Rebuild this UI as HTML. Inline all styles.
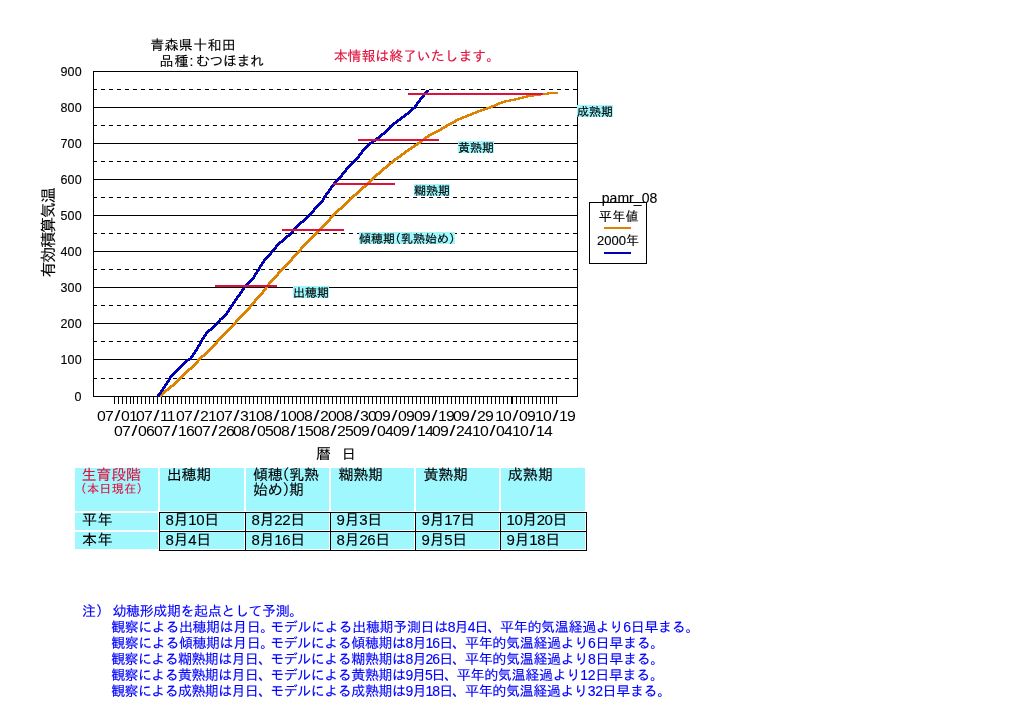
<!DOCTYPE html>
<html lang="ja"><head><meta charset="utf-8"><title>pamr_08</title>
<style>
html,body{margin:0;padding:0;background:#fff}
body{width:1024px;height:724px;position:relative;overflow:hidden;font-family:"Liberation Sans","IPAGothic",sans-serif}
.t{position:absolute;white-space:nowrap;line-height:1;font-family:"Liberation Sans","IPAGothic",sans-serif;-webkit-text-stroke:0.12px currentColor}
.x{font-size:14px;letter-spacing:-0.7px;-webkit-text-stroke:0;transform:scaleX(1.13);transform-origin:0 0}
.sl{display:inline-block;margin:0 1.95px;transform:scaleX(1.35)}
.c{position:absolute;background:#a0f8ff}
.k{position:absolute;background:#000}
</style></head><body>
<svg width="1024" height="724" viewBox="0 0 1024 724" style="position:absolute;left:0;top:0" shape-rendering="crispEdges">
<rect x="93" y="359" width="485" height="1" fill="#000"/>
<rect x="93" y="323" width="485" height="1" fill="#000"/>
<rect x="93" y="287" width="485" height="1" fill="#000"/>
<rect x="93" y="251" width="485" height="1" fill="#000"/>
<rect x="93" y="215" width="485" height="1" fill="#000"/>
<rect x="93" y="179" width="485" height="1" fill="#000"/>
<rect x="93" y="143" width="485" height="1" fill="#000"/>
<rect x="93" y="107" width="485" height="1" fill="#000"/>
<line x1="93" y1="378.5" x2="578" y2="378.5" stroke="#000" stroke-width="1" stroke-dasharray="4 4"/>
<line x1="93" y1="341.5" x2="578" y2="341.5" stroke="#000" stroke-width="1" stroke-dasharray="4 4"/>
<line x1="93" y1="305.5" x2="578" y2="305.5" stroke="#000" stroke-width="1" stroke-dasharray="4 4"/>
<line x1="93" y1="269.5" x2="578" y2="269.5" stroke="#000" stroke-width="1" stroke-dasharray="4 4"/>
<line x1="93" y1="233.5" x2="578" y2="233.5" stroke="#000" stroke-width="1" stroke-dasharray="4 4"/>
<line x1="93" y1="197.5" x2="578" y2="197.5" stroke="#000" stroke-width="1" stroke-dasharray="4 4"/>
<line x1="93" y1="161.5" x2="578" y2="161.5" stroke="#000" stroke-width="1" stroke-dasharray="4 4"/>
<line x1="93" y1="125.5" x2="578" y2="125.5" stroke="#000" stroke-width="1" stroke-dasharray="4 4"/>
<line x1="93" y1="89.5" x2="578" y2="89.5" stroke="#000" stroke-width="1" stroke-dasharray="4 4"/>
<rect x="93.5" y="71.5" width="484" height="325" fill="none" stroke="#000" stroke-width="1"/>
<path d="M114.5 397V404M118.5 397V404M122.5 397V404M126.5 397V404M130.5 397V404M133.5 397V404M137.5 397V404M141.5 397V404M145.5 397V404M149.5 397V404M153.5 397V404M157.5 397V404M161.5 397V404M165.5 397V404M169.5 397V404M173.5 397V404M177.5 397V404M181.5 397V404M185.5 397V404M189.5 397V404M193.5 397V404M197.5 397V404M201.5 397V404M205.5 397V404M209.5 397V404M213.5 397V404M217.5 397V404M221.5 397V404M225.5 397V404M229.5 397V404M233.5 397V404M237.5 397V404M241.5 397V404M245.5 397V404M249.5 397V404M253.5 397V404M257.5 397V404M261.5 397V404M265.5 397V404M269.5 397V404M273.5 397V404M277.5 397V404M280.5 397V404M284.5 397V404M288.5 397V404M292.5 397V404M296.5 397V404M300.5 397V404M304.5 397V404M308.5 397V404M312.5 397V404M316.5 397V404M320.5 397V404M324.5 397V404M328.5 397V404M332.5 397V404M336.5 397V404M340.5 397V404M344.5 397V404M348.5 397V404M352.5 397V404M356.5 397V404M360.5 397V404M364.5 397V404M368.5 397V404M372.5 397V404M376.5 397V404M380.5 397V404M384.5 397V404M388.5 397V404M392.5 397V404M396.5 397V404M400.5 397V404M404.5 397V404M408.5 397V404M412.5 397V404M416.5 397V404M420.5 397V404M424.5 397V404M428.5 397V404M432.5 397V404M435.5 397V404M439.5 397V404M443.5 397V404M447.5 397V404M451.5 397V404M455.5 397V404M459.5 397V404M463.5 397V404M467.5 397V404M471.5 397V404M475.5 397V404M479.5 397V404M483.5 397V404M487.5 397V404M491.5 397V404M495.5 397V404M499.5 397V404M503.5 397V404M507.5 397V404M511.5 397V404M512.5 397V404M516.5 397V404M520.5 397V404M524.5 397V404M528.5 397V404M532.5 397V404M536.5 397V404M540.5 397V404M544.5 397V404M548.5 397V404M552.5 397V404M556.5 397V404" stroke="#000" stroke-width="1" fill="none"/>
<clipPath id="pc"><rect x="93" y="60" width="490" height="337"/></clipPath>
<g clip-path="url(#pc)">
<path d="M159.6 395L160.4 394L162.4 394L162.4 396L161.6 397L159.6 397ZM160.4 394L164.8 390L166.8 390L166.8 392L162.4 396L160.4 396ZM164.8 390L171.7 384.4L173.7 384.4L173.7 386.4L166.8 392L164.8 392ZM171.7 384.4L179.2 377.5L181.2 377.5L181.2 379.5L173.7 386.4L171.7 386.4ZM179.2 377.5L186.05 370.6L188.05 370.6L188.05 372.6L181.2 379.5L179.2 379.5ZM186.05 370.6L191.05 366.25L193.05 366.25L193.05 368.25L188.05 372.6L186.05 372.6ZM191.05 366.25L196.05 361.25L198.05 361.25L198.05 363.25L193.05 368.25L191.05 368.25ZM196.05 361.25L199.8 356.25L201.8 356.25L201.8 358.25L198.05 363.25L196.05 363.25ZM199.8 356.25L203.55 354.4L205.55 354.4L205.55 356.4L201.8 358.25L199.8 358.25ZM203.55 354.4L213.55 344.4L215.55 344.4L215.55 346.4L205.55 356.4L203.55 356.4ZM213.55 344.4L217.3 339.4L219.3 339.4L219.3 341.4L215.55 346.4L213.55 346.4ZM217.3 339.4L224.8 331.25L226.8 331.25L226.8 333.25L219.3 341.4L217.3 341.4ZM224.8 331.25L234.8 321.25L236.8 321.25L236.8 323.25L226.8 333.25L224.8 333.25ZM234.8 321.25L241.05 314.4L243.05 314.4L243.05 316.4L236.8 323.25L234.8 323.25ZM241.05 314.4L246.05 310L248.05 310L248.05 312L243.05 316.4L241.05 316.4ZM246.05 310L250.1 304.5L252.1 304.5L252.1 306.5L248.05 312L246.05 312ZM250.1 304.5L262.3 290.6L264.3 290.6L264.3 292.6L252.1 306.5L250.1 306.5ZM262.3 290.6L269.2 281.25L271.2 281.25L271.2 283.25L264.3 292.6L262.3 292.6ZM269.2 281.25L281.05 268.75L283.05 268.75L283.05 270.75L271.2 283.25L269.2 283.25ZM281.05 268.75L289.8 259.4L291.8 259.4L291.8 261.4L283.05 270.75L281.05 270.75ZM289.8 259.4L301.05 246.9L303.05 246.9L303.05 248.9L291.8 261.4L289.8 261.4ZM301.05 246.9L317.3 230.6L319.3 230.6L319.3 232.6L303.05 248.9L301.05 248.9ZM317.3 230.6L332.3 214.5L334.3 214.5L334.3 216.5L319.3 232.6L317.3 232.6ZM332.3 214.5L347.3 200L349.3 200L349.3 202L334.3 216.5L332.3 216.5ZM347.3 200L364.8 184.4L366.8 184.4L366.8 186.4L349.3 202L347.3 202ZM364.8 184.4L369.8 179.4L371.8 179.4L371.8 181.4L366.8 186.4L364.8 186.4ZM369.8 179.4L379.8 170.6L381.8 170.6L381.8 172.6L371.8 181.4L369.8 181.4ZM379.8 170.6L392.3 160L394.3 160L394.3 162L381.8 172.6L379.8 172.6ZM392.3 160L407.3 149.2L409.3 149.2L409.3 151.2L394.3 162L392.3 162ZM407.3 149.2L419.8 140.8L421.8 140.8L421.8 142.8L409.3 151.2L407.3 151.2ZM419.8 140.8L428.55 134L430.55 134L430.55 136L421.8 142.8L419.8 142.8ZM428.55 134L439.8 128.4L441.8 128.4L441.8 130.4L430.55 136L428.55 136ZM439.8 128.4L447.3 124L449.3 124L449.3 126L441.8 130.4L439.8 130.4ZM447.3 124L457.3 118.4L459.3 118.4L459.3 120.4L449.3 126L447.3 126ZM457.3 118.4L469.8 113.4L471.8 113.4L471.8 115.4L459.3 120.4L457.3 120.4ZM469.8 113.4L479.8 109.6L481.8 109.6L481.8 111.6L471.8 115.4L469.8 115.4ZM479.8 109.6L487.3 107.1L489.3 107.1L489.3 109.1L481.8 111.6L479.8 111.6ZM487.3 107.1L494.8 104L496.8 104L496.8 106L489.3 109.1L487.3 109.1ZM494.8 104L502.3 100.9L504.3 100.9L504.3 102.9L496.8 106L494.8 106ZM502.3 100.9L514.8 98.4L516.8 98.4L516.8 100.4L504.3 102.9L502.3 102.9ZM514.8 98.4L527.3 95.25L529.3 95.25L529.3 97.25L516.8 100.4L514.8 100.4ZM527.3 95.25L539.8 93.4L541.8 93.4L541.8 95.4L529.3 97.25L527.3 97.25ZM539.8 93.4L547.3 92.5L549.3 92.5L549.3 94.5L541.8 95.4L539.8 95.4ZM547.3 92.5L556.3 91.9L558.3 91.9L558.3 93.9L549.3 94.5L547.3 94.5Z" fill="#dc8200" fill-rule="nonzero"/>
<path d="M157 395L157.9 394L159.9 394L159.9 396L159 397L157 397ZM157.9 394L162.9 386.9L164.9 386.9L164.9 388.9L159.9 396L157.9 396ZM162.9 386.9L167.3 380L169.3 380L169.3 382L164.9 388.9L162.9 388.9ZM167.3 380L170.4 375L172.4 375L172.4 377L169.3 382L167.3 382ZM170.4 375L175.4 370L177.4 370L177.4 372L172.4 377L170.4 377ZM175.4 370L183.55 361.9L185.55 361.9L185.55 363.9L177.4 372L175.4 372ZM183.55 361.9L186.05 359.4L188.05 359.4L188.05 361.4L185.55 363.9L183.55 363.9ZM186.05 359.4L189.2 358.1L191.2 358.1L191.2 360.1L188.05 361.4L186.05 361.4ZM189.2 358.1L192.9 352.5L194.9 352.5L194.9 354.5L191.2 360.1L189.2 360.1ZM192.9 352.5L196.7 346.9L198.7 346.9L198.7 348.9L194.9 354.5L192.9 354.5ZM196.7 346.9L199.8 341.25L201.8 341.25L201.8 343.25L198.7 348.9L196.7 348.9ZM199.8 341.25L203.55 335L205.55 335L205.55 337L201.8 343.25L199.8 343.25ZM203.55 335L207.3 330L209.3 330L209.3 332L205.55 337L203.55 337ZM207.3 330L211.05 327.5L213.05 327.5L213.05 329.5L209.3 332L207.3 332ZM211.05 327.5L215.4 323.1L217.4 323.1L217.4 325.1L213.05 329.5L211.05 329.5ZM215.4 323.1L219.2 318.75L221.2 318.75L221.2 320.75L217.4 325.1L215.4 325.1ZM219.2 318.75L224.8 313.75L226.8 313.75L226.8 315.75L221.2 320.75L219.2 320.75ZM224.8 313.75L228.55 308.1L230.55 308.1L230.55 310.1L226.8 315.75L224.8 315.75ZM228.55 308.1L231.05 304.5L233.05 304.5L233.05 306.5L230.55 310.1L228.55 310.1ZM231.05 304.5L237.9 294.4L239.9 294.4L239.9 296.4L233.05 306.5L231.05 306.5ZM237.9 294.4L244.8 284.4L246.8 284.4L246.8 286.4L239.9 296.4L237.9 296.4ZM244.8 284.4L252.3 276.9L254.3 276.9L254.3 278.9L246.8 286.4L244.8 286.4ZM252.3 276.9L258.55 266.9L260.55 266.9L260.55 268.9L254.3 278.9L252.3 278.9ZM258.55 266.9L263.55 259.4L265.55 259.4L265.55 261.4L260.55 268.9L258.55 268.9ZM263.55 259.4L272.9 248.75L274.9 248.75L274.9 250.75L265.55 261.4L263.55 261.4ZM272.9 248.75L276.7 243.75L278.7 243.75L278.7 245.75L274.9 250.75L272.9 250.75ZM276.7 243.75L284.8 236.9L286.8 236.9L286.8 238.9L278.7 245.75L276.7 245.75ZM284.8 236.9L289.8 232.5L291.8 232.5L291.8 234.5L286.8 238.9L284.8 238.9ZM289.8 232.5L294.8 226.9L296.8 226.9L296.8 228.9L291.8 234.5L289.8 234.5ZM294.8 226.9L307.3 215L309.3 215L309.3 217L296.8 228.9L294.8 228.9ZM307.3 215L320.4 201.25L322.4 201.25L322.4 203.25L309.3 217L307.3 217ZM320.4 201.25L326.05 192.5L328.05 192.5L328.05 194.5L322.4 203.25L320.4 203.25ZM326.05 192.5L332.9 183.1L334.9 183.1L334.9 185.1L328.05 194.5L326.05 194.5ZM332.9 183.1L342.3 172.5L344.3 172.5L344.3 174.5L334.9 185.1L332.9 185.1ZM342.3 172.5L347.3 166.25L349.3 166.25L349.3 168.25L344.3 174.5L342.3 174.5ZM347.3 166.25L357.3 156.25L359.3 156.25L359.3 158.25L349.3 168.25L347.3 168.25ZM357.3 156.25L362.9 148.1L364.9 148.1L364.9 150.1L359.3 158.25L357.3 158.25ZM362.9 148.1L368.55 143.1L370.55 143.1L370.55 145.1L364.9 150.1L362.9 150.1ZM368.55 143.1L374.8 138.75L376.8 138.75L376.8 140.75L370.55 145.1L368.55 145.1ZM374.8 138.75L382.3 132.75L384.3 132.75L384.3 134.75L376.8 140.75L374.8 140.75ZM382.3 132.75L392.3 123.4L394.3 123.4L394.3 125.4L384.3 134.75L382.3 134.75ZM392.3 123.4L402.3 115.9L404.3 115.9L404.3 117.9L394.3 125.4L392.3 125.4ZM402.3 115.9L407.3 112.1L409.3 112.1L409.3 114.1L404.3 117.9L402.3 117.9ZM407.3 112.1L413.55 106.5L415.55 106.5L415.55 108.5L409.3 114.1L407.3 114.1ZM413.55 106.5L418.55 99.6L420.55 99.6L420.55 101.6L415.55 108.5L413.55 108.5ZM418.55 99.6L423.55 93.4L425.55 93.4L425.55 95.4L420.55 101.6L418.55 101.6ZM423.55 93.4L427.05 89.6L429.05 89.6L429.05 91.6L425.55 95.4L423.55 95.4Z" fill="#0000b4" fill-rule="nonzero"/>
</g>
<rect x="215" y="285" width="62" height="2" fill="#e0103c"/>
<rect x="282" y="229" width="62" height="2" fill="#e0103c"/>
<rect x="333" y="183" width="62" height="2" fill="#e0103c"/>
<rect x="358" y="139" width="81" height="2" fill="#e0103c"/>
<rect x="408" y="93" width="135" height="2" fill="#e0103c"/>
<rect x="589.5" y="202.5" width="57" height="61" fill="#fff" stroke="#000" stroke-width="1"/>
<rect x="604" y="227" width="27" height="2" fill="#dc8200"/>
<rect x="604" y="252" width="27" height="2" fill="#0000b4"/>
</svg>
<div class="c" style="left:75px;top:468px;width:83px;height:43px"></div>
<div class="c" style="left:75px;top:513px;width:83px;height:17px"></div>
<div class="c" style="left:75px;top:532px;width:83px;height:17px"></div>
<div class="c" style="left:160px;top:468px;width:84px;height:43px"></div>
<div class="c" style="left:160px;top:513px;width:84px;height:17px"></div>
<div class="c" style="left:160px;top:532px;width:84px;height:17px"></div>
<div class="c" style="left:246px;top:468px;width:83px;height:43px"></div>
<div class="c" style="left:246px;top:513px;width:83px;height:17px"></div>
<div class="c" style="left:246px;top:532px;width:83px;height:17px"></div>
<div class="c" style="left:331px;top:468px;width:83px;height:43px"></div>
<div class="c" style="left:331px;top:513px;width:83px;height:17px"></div>
<div class="c" style="left:331px;top:532px;width:83px;height:17px"></div>
<div class="c" style="left:416px;top:468px;width:83px;height:43px"></div>
<div class="c" style="left:416px;top:513px;width:83px;height:17px"></div>
<div class="c" style="left:416px;top:532px;width:83px;height:17px"></div>
<div class="c" style="left:501px;top:468px;width:84px;height:43px"></div>
<div class="c" style="left:501px;top:513px;width:84px;height:17px"></div>
<div class="c" style="left:501px;top:532px;width:84px;height:17px"></div>
<div class="k" style="left:159px;top:512px;width:1px;height:39px"></div>
<div class="k" style="left:245px;top:512px;width:1px;height:39px"></div>
<div class="k" style="left:330px;top:512px;width:1px;height:39px"></div>
<div class="k" style="left:415px;top:512px;width:1px;height:39px"></div>
<div class="k" style="left:500px;top:512px;width:1px;height:39px"></div>
<div class="k" style="left:586px;top:512px;width:1px;height:39px"></div>
<div class="k" style="left:159px;top:512px;width:428px;height:1px"></div>
<div class="k" style="left:159px;top:531px;width:428px;height:1px"></div>
<div class="k" style="left:159px;top:550px;width:428px;height:1px"></div>
<div class="t" style="left:150.25px;top:38px;font-size:14px;letter-spacing:0.3px;">青森県十和田</div>
<div class="t" style="left:159.60px;top:54px;font-size:14px;letter-spacing:0.95px;">品種:</div>
<div class="t" style="left:195.90px;top:54px;font-size:14px;letter-spacing:-0.48px;">むつほまれ</div>
<div class="t" style="left:333.70px;top:49px;font-size:14px;color:#e0103c;letter-spacing:-0.14px;">本情報は終了いたします。</div>
<div class="t" style="left:74.40px;top:391px;font-size:12.5px;letter-spacing:0.2px;">0</div>
<div class="t" style="left:60.40px;top:354px;font-size:12.5px;letter-spacing:0.2px;">100</div>
<div class="t" style="left:60.40px;top:318px;font-size:12.5px;letter-spacing:0.2px;">200</div>
<div class="t" style="left:60.40px;top:282px;font-size:12.5px;letter-spacing:0.2px;">300</div>
<div class="t" style="left:60.40px;top:246px;font-size:12.5px;letter-spacing:0.2px;">400</div>
<div class="t" style="left:60.40px;top:210px;font-size:12.5px;letter-spacing:0.2px;">500</div>
<div class="t" style="left:60.40px;top:174px;font-size:12.5px;letter-spacing:0.2px;">600</div>
<div class="t" style="left:60.40px;top:138px;font-size:12.5px;letter-spacing:0.2px;">700</div>
<div class="t" style="left:60.40px;top:102px;font-size:12.5px;letter-spacing:0.2px;">800</div>
<div class="t" style="left:60.40px;top:66px;font-size:12.5px;letter-spacing:0.2px;">900</div>
<div class="t" style="left:316.10px;top:446px;font-size:15px;">暦</div>
<div class="t" style="left:341.70px;top:447px;font-size:14px;">日</div>
<div class="t" style="left:601.80px;top:191px;font-size:14px;letter-spacing:0.03px;">pamr_08</div>
<div class="t" style="left:598.80px;top:210px;font-size:13px;letter-spacing:0.4px;">平年値</div>
<div class="t" style="left:596.90px;top:234px;font-size:13px;letter-spacing:0.03px;">2000年</div>
<div class="t" style="left:81.50px;top:467px;font-size:15px;color:#e0103c;letter-spacing:-0.17px;">生育段階</div>
<div class="t" style="left:80.50px;top:483px;font-size:12px;color:#e0103c;letter-spacing:0.42px;"><span style="margin-left:-6px">（</span>本日現在<span style="margin-right:-6px">）</span></div>
<div class="t" style="left:166.75px;top:467px;font-size:15px;letter-spacing:-0.25px;">出穂期</div>
<div class="t" style="left:253.00px;top:467px;font-size:15px;letter-spacing:-0.22px;">傾穂<span style="margin-left:-8px">（</span>乳熟</div>
<div class="t" style="left:253.00px;top:482px;font-size:15px;letter-spacing:-0.3px;">始め<span style="margin-right:-8px">）</span>期</div>
<div class="t" style="left:338.40px;top:467px;font-size:15px;letter-spacing:-0.2px;">糊熟期</div>
<div class="t" style="left:423.40px;top:467px;font-size:15px;letter-spacing:-0.2px;">黄熟期</div>
<div class="t" style="left:507.75px;top:467px;font-size:15px;letter-spacing:0.12px;">成熟期</div>
<div class="t" style="left:82.00px;top:512px;font-size:15px;letter-spacing:0.5px;">平年</div>
<div class="t" style="left:82.00px;top:532px;font-size:15px;letter-spacing:0.5px;">本年</div>
<div class="t" style="left:165.60px;top:512px;font-size:15px;letter-spacing:-0.35px;">8月10日</div>
<div class="t" style="left:165.60px;top:532px;font-size:15px;letter-spacing:-0.33px;">8月4日</div>
<div class="t" style="left:251.60px;top:512px;font-size:15px;letter-spacing:-0.35px;">8月22日</div>
<div class="t" style="left:251.60px;top:532px;font-size:15px;letter-spacing:-0.35px;">8月16日</div>
<div class="t" style="left:336.60px;top:512px;font-size:15px;letter-spacing:-0.33px;">9月3日</div>
<div class="t" style="left:336.60px;top:532px;font-size:15px;letter-spacing:-0.35px;">8月26日</div>
<div class="t" style="left:421.60px;top:512px;font-size:15px;letter-spacing:-0.35px;">9月17日</div>
<div class="t" style="left:421.60px;top:532px;font-size:15px;letter-spacing:-0.33px;">9月5日</div>
<div class="t" style="left:506.60px;top:512px;font-size:15px;letter-spacing:-0.5px;">10月20日</div>
<div class="t" style="left:506.60px;top:532px;font-size:15px;letter-spacing:-0.35px;">9月18日</div>
<div class="t" style="left:82.00px;top:604px;font-size:14px;color:#0000ff;">注）</div>
<div class="t" style="left:112.50px;top:604px;font-size:14px;color:#0000ff;letter-spacing:-0.4px;">幼穂形成期を起点として予測。</div>
<div class="t" style="left:111.25px;top:620px;font-size:14px;color:#0000ff;letter-spacing:-0.46px;">観察による出穂期は月日。</div>
<div class="t" style="left:270.20px;top:620px;font-size:14px;color:#0000ff;letter-spacing:-0.33px;">モデルによる出穂期予測日は</div>
<div class="t" style="left:447.75px;top:620px;font-size:14px;color:#0000ff;letter-spacing:-0.94px;">8月4日、</div>
<div class="t" style="left:500.00px;top:620px;font-size:14px;color:#0000ff;letter-spacing:-0.31px;">平年的気温経過より6日早まる。</div>
<div class="t" style="left:111.25px;top:636px;font-size:14px;color:#0000ff;letter-spacing:-0.46px;">観察による傾穂期は月日。</div>
<div class="t" style="left:270.20px;top:636px;font-size:14px;color:#0000ff;letter-spacing:-0.47px;">モデルによる傾穂期は</div>
<div class="t" style="left:405.50px;top:636px;font-size:14px;color:#0000ff;letter-spacing:-0.9px;">8月16日、</div>
<div class="t" style="left:465.00px;top:636px;font-size:14px;color:#0000ff;letter-spacing:-0.32px;">平年的気温経過より6日早まる。</div>
<div class="t" style="left:111.25px;top:652px;font-size:14px;color:#0000ff;letter-spacing:-0.64px;">観察による糊熟期は月日、</div>
<div class="t" style="left:270.20px;top:652px;font-size:14px;color:#0000ff;letter-spacing:-0.47px;">モデルによる糊熟期は</div>
<div class="t" style="left:405.50px;top:652px;font-size:14px;color:#0000ff;letter-spacing:-0.9px;">8月26日、</div>
<div class="t" style="left:465.00px;top:652px;font-size:14px;color:#0000ff;letter-spacing:-0.32px;">平年的気温経過より8日早まる。</div>
<div class="t" style="left:111.25px;top:668px;font-size:14px;color:#0000ff;letter-spacing:-0.64px;">観察による黄熟期は月日、</div>
<div class="t" style="left:270.20px;top:668px;font-size:14px;color:#0000ff;letter-spacing:-0.47px;">モデルによる黄熟期は</div>
<div class="t" style="left:405.50px;top:668px;font-size:14px;color:#0000ff;letter-spacing:-1.2px;">9月5日、</div>
<div class="t" style="left:456.70px;top:668px;font-size:14px;color:#0000ff;letter-spacing:-0.28px;">平年的気温経過より12日早まる。</div>
<div class="t" style="left:111.25px;top:684px;font-size:14px;color:#0000ff;letter-spacing:-0.64px;">観察による成熟期は月日、</div>
<div class="t" style="left:270.20px;top:684px;font-size:14px;color:#0000ff;letter-spacing:-0.47px;">モデルによる成熟期は</div>
<div class="t" style="left:405.50px;top:684px;font-size:14px;color:#0000ff;letter-spacing:-0.9px;">9月18日、</div>
<div class="t" style="left:465.00px;top:684px;font-size:14px;color:#0000ff;letter-spacing:-0.36px;">平年的気温経過より32日早まる。</div>
<div class="t x" style="left:97.00px;top:409px">07<span class="sl">/</span>01</div>
<div class="t x" style="left:135.75px;top:409px">07<span class="sl">/</span>11</div>
<div class="t x" style="left:176.10px;top:409px">07<span class="sl">/</span>21</div>
<div class="t x" style="left:216.10px;top:409px">07<span class="sl">/</span>31</div>
<div class="t x" style="left:255.75px;top:409px">08<span class="sl">/</span>10</div>
<div class="t x" style="left:295.50px;top:409px">08<span class="sl">/</span>20</div>
<div class="t x" style="left:335.75px;top:409px">08<span class="sl">/</span>30</div>
<div class="t x" style="left:373.50px;top:409px">09<span class="sl">/</span>09</div>
<div class="t x" style="left:413.50px;top:409px">09<span class="sl">/</span>19</div>
<div class="t x" style="left:452.50px;top:409px">09<span class="sl">/</span>29</div>
<div class="t x" style="left:494.50px;top:409px">10<span class="sl">/</span>09</div>
<div class="t x" style="left:535.10px;top:409px">10<span class="sl">/</span>19</div>
<div class="t x" style="left:114.00px;top:424px">07<span class="sl">/</span>06</div>
<div class="t x" style="left:153.80px;top:424px">07<span class="sl">/</span>16</div>
<div class="t x" style="left:193.60px;top:424px">07<span class="sl">/</span>26</div>
<div class="t x" style="left:233.40px;top:424px">08<span class="sl">/</span>05</div>
<div class="t x" style="left:273.20px;top:424px">08<span class="sl">/</span>15</div>
<div class="t x" style="left:313.00px;top:424px">08<span class="sl">/</span>25</div>
<div class="t x" style="left:352.80px;top:424px">09<span class="sl">/</span>04</div>
<div class="t x" style="left:392.60px;top:424px">09<span class="sl">/</span>14</div>
<div class="t x" style="left:432.40px;top:424px">09<span class="sl">/</span>24</div>
<div class="t x" style="left:472.20px;top:424px">10<span class="sl">/</span>04</div>
<div class="t x" style="left:512.00px;top:424px">10<span class="sl">/</span>14</div>
<div class="t" style="left:3.5px;top:225px;width:90px;text-align:center;font-size:16px;letter-spacing:-1.15px;transform:rotate(-90deg);transform-origin:center center">有効積算気温</div>
<div class="t" style="left:293px;top:286px;width:36px;height:11px;padding-top:1px;font-size:12px;-webkit-text-stroke:0.15px #000;background:#a0f8ff;">出穂期</div>
<div class="t" style="left:359px;top:232px;width:96px;height:11px;padding-top:1px;font-size:12px;-webkit-text-stroke:0.15px #000;background:#a0f8ff;">傾穂期<span style="margin-left:-6px">（</span>乳熟始め<span style="margin-right:-6px">）</span></div>
<div class="t" style="left:414px;top:184px;width:36px;height:11px;padding-top:1px;font-size:12px;-webkit-text-stroke:0.15px #000;background:#a0f8ff;">糊熟期</div>
<div class="t" style="left:458px;top:141px;width:36px;height:11px;padding-top:1px;font-size:12px;-webkit-text-stroke:0.15px #000;background:#a0f8ff;">黄熟期</div>
<div class="t" style="left:577px;top:105px;width:36px;height:11px;padding-top:1px;font-size:12px;-webkit-text-stroke:0.15px #000;background:#a0f8ff;">成熟期</div>
</body></html>
